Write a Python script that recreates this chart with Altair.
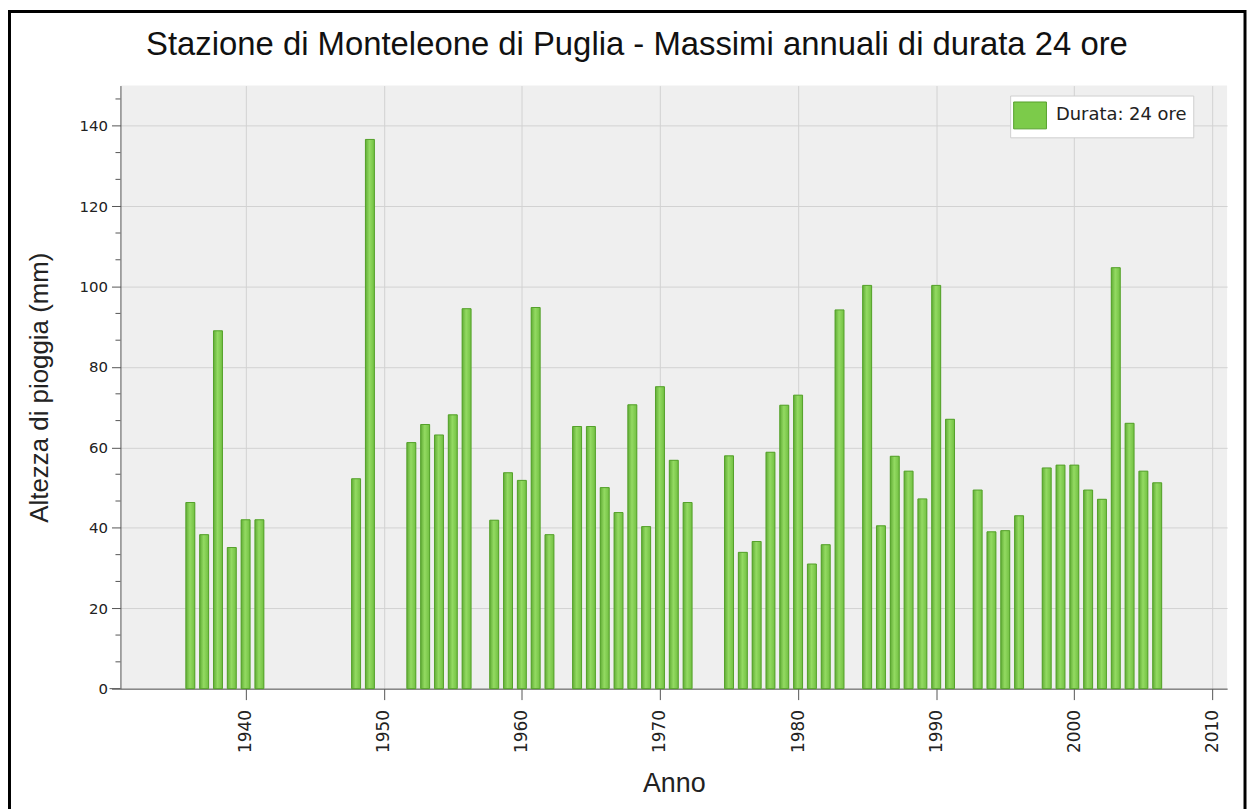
import altair as alt
import pandas as pd

# ---- data ----
years = [1936, 1937, 1938, 1939, 1940, 1941, 1948, 1949, 1952, 1953, 1954, 1955,
         1956, 1958, 1959, 1960, 1961, 1962, 1964, 1965, 1966, 1967, 1968, 1969,
         1970, 1971, 1972, 1975, 1976, 1977, 1978, 1979, 1980, 1981, 1982, 1983,
         1985, 1986, 1987, 1988, 1989, 1990, 1991, 1993, 1994, 1995, 1996, 1998,
         1999, 2000, 2001, 2002, 2003, 2004, 2005, 2006]
values = [46.3, 38.3, 89.0, 35.1, 42.0, 42.0, 52.2, 136.6, 61.2, 65.7, 63.1, 68.1,
          94.5, 41.9, 53.7, 51.8, 94.8, 38.3, 65.2, 65.2, 50.0, 43.8, 70.6, 40.3,
          75.1, 56.8, 46.3, 57.9, 33.9, 36.6, 58.8, 70.5, 73.0, 31.0, 35.8, 94.2,
          100.3, 40.5, 57.8, 54.1, 47.2, 100.3, 67.0, 49.4, 39.0, 39.3, 43.0, 54.9,
          55.6, 55.6, 49.4, 47.1, 104.7, 66.0, 54.1, 51.2]
series_name = "Durata: 24 ore"
x_ticks = [1940, 1950, 1960, 1970, 1980, 1990, 2000, 2010]
y_ticks = [0, 20, 40, 60, 80, 100, 120, 140]
y_minor = [6.67, 13.33, 26.67, 33.33, 46.67, 53.33, 66.67, 73.33, 86.67, 93.33,
           106.67, 113.33, 126.67, 133.33, 146.67]
chart_title = "Stazione di Monteleone di Puglia - Massimi annuali di durata 24 ore"
x_title = "Anno"
y_title = "Altezza di pioggia (mm)"

df = pd.DataFrame({"Anno": years, "Altezza": values, "Serie": series_name})
minor_df = pd.DataFrame({"v": y_minor})

W, H = 1112, 606
x_scale = alt.Scale(domain=[1931.3, 2010.7], nice=False, zero=False)
y_scale = alt.Scale(domain=[0, 150], nice=False)

grad = alt.Gradient(
    gradient="linear",
    stops=[alt.GradientStop(color="#62ad36", offset=0),
           alt.GradientStop(color="#93da62", offset=0.45),
           alt.GradientStop(color="#72c042", offset=1)],
    x1=0, x2=1, y1=0, y2=0,
)

base = alt.Chart(df)

bars_legend = base.mark_bar(size=9).encode(
    x=alt.X("Anno:Q", scale=x_scale,
            axis=alt.Axis(values=x_ticks, format="d", labelAngle=-90, title=x_title,
                          grid=True, tickSize=11, labelPadding=10, labelFontSize=17,
                          titleFontSize=27, titleY=95, titleBaseline="middle")),
    y=alt.Y("Altezza:Q", scale=y_scale,
            axis=alt.Axis(values=y_ticks, title=y_title, grid=True, tickSize=9,
                          labelPadding=4, labelFontSize=15, titleFontSize=26,
                          titleX=-81, titleY=H / 2, titleAlign="center",
                          titleBaseline="middle", titleAngle=270)),
    color=alt.Color("Serie:N", scale=alt.Scale(range=["#7ccb4a"]),
                    legend=alt.Legend(title=None, orient="none", legendX=894, legendY=10,
                                      fillColor="white", strokeColor="#cfcfcf",
                                      padding=6, labelFontSize=18, labelFont="DejaVu Sans",
                                      labelColor="#222", labelOffset=12,
                                      symbolType="M-1.22,-1L1.22,-1L1.22,1L-1.22,1Z",
                                      symbolSize=729, symbolStrokeColor="#55a02b",
                                      symbolStrokeWidth=1, symbolOpacity=1)),
)

bars_grad = base.mark_bar(size=9, fill=grad, stroke="#55a02b", strokeWidth=1).encode(
    x=alt.X("Anno:Q", scale=x_scale),
    y=alt.Y("Altezza:Q", scale=y_scale),
)

minor = alt.Chart(minor_df).mark_rule(color="#555", strokeWidth=1).encode(
    y=alt.Y("v:Q", scale=y_scale, title=y_title),
    x=alt.value(-5), x2=alt.value(0),
)

one = alt.Data(values=[{}])
title_txt = alt.Chart(one).mark_text(
    text=chart_title, font="Liberation Sans", fontSize=33, color="#111",
    align="center", baseline="middle"
).encode(x=alt.value(519), y=alt.value(-41))

x_ext = alt.Chart(one).mark_rule(color="#555").encode(
    x=alt.value(-11), x2=alt.value(0), y=alt.value(H)
)

frame = alt.Chart(one).mark_rect(filled=False, stroke="#000", strokeWidth=3).encode(
    x=alt.value(-111.5), x2=alt.value(1130), y=alt.value(-74.5), y2=alt.value(740)
)

chart = alt.layer(bars_legend, bars_grad, minor, x_ext, title_txt, frame).properties(
    width=W, height=H,
    autosize=alt.AutoSizeParams(type="none"),
    padding={"left": 113, "top": 76, "right": 20, "bottom": 122},
    background="white",
).configure_view(
    fill="#efefef", strokeWidth=0
).configure_axis(
    domainColor="#555", tickColor="#555", gridColor="#d2d2d2",
    labelColor="#222", titleColor="#222", labelFont="DejaVu Sans",
    titleFont="Liberation Sans", titleFontWeight="normal",
)

chart.save("out.html", embed_options={"renderer": "svg", "actions": False})
